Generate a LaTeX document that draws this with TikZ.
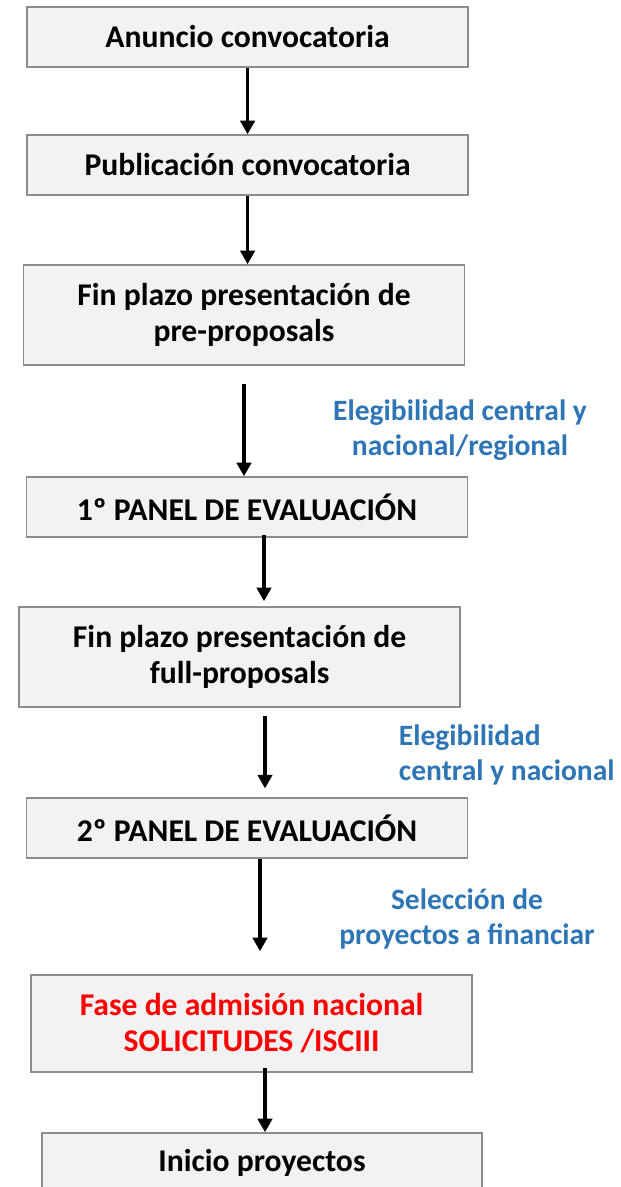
\documentclass[tikz,border=0pt]{standalone}
\usepackage{fontspec}
\setmainfont{Carlito}
\usetikzlibrary{arrows.meta}
\definecolor{boxfill}{HTML}{F2F2F2}
\definecolor{boxline}{HTML}{8C8C8C}
\definecolor{notecol}{HTML}{2E75B6}
\begin{document}
\begin{tikzpicture}[stepnode/.style={rectangle, draw=boxline, line width=1.1pt, fill=boxfill, minimum width=11.03cm, minimum height=1.5cm, align=center, font=\bfseries\fontsize{22.5}{25.6}\selectfont},
	tallnode/.style={stepnode, minimum height=2.5cm},
	notenode/.style={text=notecol, align=center, font=\bfseries\fontsize{21}{25}\selectfont},
	arr/.style={->, line width=2.3pt},
	>={Triangle[width=0.36cm,length=0.34cm]}
	]
	\useasboundingbox (0,0) rectangle (15.5,-29.675);
	\path
	+(6.19,-0.925)  node[stepnode]  (1) {Anuncio convocatoria}
	+(6.19,-4.125)  node[stepnode]  (2) {Publicación convocatoria}
	+(6.1,-7.875)  node[tallnode]  (3) {Fin plazo presentación de\\pre-proposals}
	+(6.175,-12.675)  node[stepnode]  (4) {1º PANEL DE EVALUACIÓN}
	+(5.99,-16.425)  node[tallnode]  (5) {Fin plazo presentación de\\full-proposals}
	+(6.175,-20.7)  node[stepnode]  (6) {2º PANEL DE EVALUACIÓN}
	+(6.29,-25.59)  node[tallnode,minimum height=2.43cm,text=red]  (7) {Fase de admisión nacional\\SOLICITUDES /ISCIII}
	+(6.55,-29.075)  node[stepnode,minimum width=11cm]  (8) {Inicio proyectos}
	+(11.5,-10.75)  node[notenode]  (n1) {Elegibilidad central y\\nacional/regional}
	+(9.85,-18.875)  node[notenode,anchor=west,align=left]  (n2) {Elegibilidad\\central y nacional}
	+(11.675,-22.975)  node[notenode]  (n3) {Selección de\\proyectos a financiar}
	;
	\draw[arr] (1.south) -- (1.south |- 2.north);
	\draw[arr] (2.south) -- (2.south |- 3.north);
	\draw[arr] ([yshift=-0.45cm]3.south) -- (3.south |- 4.north);
	\draw[arr] ([xshift=0.425cm,yshift=0.075cm]4.south) -- ([xshift=0.61cm,yshift=0.125cm]5.north);
	\draw[arr] ([xshift=0.635cm,yshift=-0.2cm]5.south) -- ([xshift=0.45cm,yshift=0.22cm]6.north);
	\draw[arr] ([xshift=0.325cm]6.south) -- ([xshift=0.21cm,yshift=0.575cm]7.north);
	\draw[arr] ([xshift=0.335cm,yshift=0.125cm]7.south) -- ([xshift=0.075cm]8.north);
\end{tikzpicture}
\end{document}
